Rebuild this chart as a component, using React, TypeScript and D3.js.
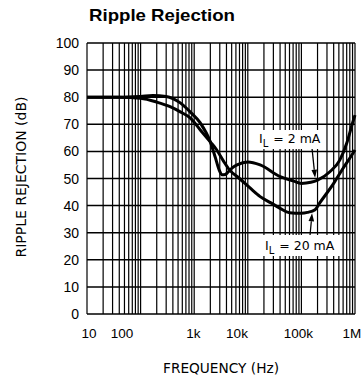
import React from "react";
import * as d3 from "d3";

// ---- data ----
const FREQ_2MA = [10, 40, 100, 170, 300, 550, 850, 1300, 2000, 2500, 2900, 3300, 3800, 4300, 5200, 6300, 10000, 17000, 40000, 70000, 100000, 150000, 200000, 340000, 520000, 700000, 900000, 1000000];
const RR_2MA = [80, 80, 80.3, 80.6, 80.3, 77.9, 74.5, 70.5, 63.5, 57.5, 53.3, 51.4, 51.5, 52.4, 54.0, 55.0, 56.1, 55.0, 50.7, 49.1, 48.2, 48.6, 49.4, 52.5, 56.8, 63.0, 70.5, 73.4];

const FREQ_20MA = [10, 40, 100, 200, 355, 550, 850, 1300, 2000, 2600, 3500, 4600, 7000, 11000, 17000, 27000, 40000, 60000, 100000, 130000, 180000, 220000, 400000, 600000, 850000, 1000000];
const RR_20MA = [80, 80, 79.6, 78.2, 76.5, 74.6, 72.3, 67.9, 63.5, 60.7, 56.5, 53.1, 50.0, 46.5, 43.3, 41.0, 39.0, 37.4, 37.2, 37.5, 38.5, 41.0, 48.2, 53.8, 58.3, 60.5];

const Y_TICKS = [0, 10, 20, 30, 40, 50, 60, 70, 80, 90, 100];
const X_TICKS = [10, 100, 1000, 10000, 100000, 1000000];
const X_TICK_LABELS = ["10", "100", "1k", "10k", "100k", "1M"];
const DECADES = [10, 100, 1000, 10000, 100000];
const MINOR_MULTS = [1, 2, 3, 4, 5, 6, 7, 8, 9];

const TITLE = "Ripple Rejection";
const Y_TITLE = "RIPPLE REJECTION (dB)";
const X_TITLE = "FREQUENCY (Hz)";

// annotations: curve point pointed at (frequency, dB)
const ANNO_2MA = { f: 180000, db: 49.2, value: "2 mA" };
const ANNO_20MA = { f: 158000, db: 37.9, value: "20 mA" };

// ---- layout ----
const W = 364;
const H = 379;
const PLOT = { left: 87, right: 355, top: 43, bottom: 314 };
// horizontal offsets of x tick labels as placed in the reference
const X_LABEL_DX = [2, -18.6, -0.7, -10.8, -3, -3];

export default function App() {
  const x = d3.scaleLog().domain([10, 1e6]).range([PLOT.left, PLOT.right]);
  const y = d3.scaleLinear().domain([0, 100]).range([PLOT.bottom, PLOT.top]);

  const line = d3
    .line<{ f: number; v: number }>()
    .x((d) => x(d.f))
    .y((d) => y(d.v))
    .curve(d3.curveMonotoneX);

  const s2 = FREQ_2MA.map((f, i) => ({ f, v: RR_2MA[i] }));
  const s20 = FREQ_20MA.map((f, i) => ({ f, v: RR_20MA[i] }));

  const vLines: number[] = [];
  DECADES.forEach((d) => MINOR_MULTS.forEach((m) => vLines.push(d * m)));
  vLines.push(1e6);

  const font = "'DejaVu Sans', sans-serif";
  const numFont = "'Liberation Sans', Arial, sans-serif";

  // annotation geometry
  const a2x = x(ANNO_2MA.f);
  const a2y = y(ANNO_2MA.db) - 3;
  const a20x = x(ANNO_20MA.f);
  const a20y = y(ANNO_20MA.db) + 2;

  const arrow = (x1: number, y1: number, x2: number, y2: number) => {
    const ang = Math.atan2(y2 - y1, x2 - x1);
    const len = 8;
    const hw = 2.8;
    const bx = x2 - len * Math.cos(ang);
    const by = y2 - len * Math.sin(ang);
    const px = -Math.sin(ang) * hw;
    const py = Math.cos(ang) * hw;
    return (
      <g>
        <line x1={x1} y1={y1} x2={bx} y2={by} stroke="#000" strokeWidth={1.3} />
        <path d={`M${x2},${y2}L${bx + px},${by + py}L${bx - px},${by - py}Z`} fill="#000" />
      </g>
    );
  };

  return (
    <svg
      width={W}
      height={H}
      style={{ position: "absolute", left: 0, top: 0, background: "#fff" }}
    >
      <rect x={0} y={0} width={W} height={H} fill="#fff" />
      {/* title */}
      <text
        x={89}
        y={21}
        fontFamily={numFont}
        fontWeight="bold"
        fontSize={16.5}
        textLength={146}
        lengthAdjust="spacingAndGlyphs"
        fill="#000"
      >
        {TITLE}
      </text>

      {/* vertical grid */}
      {vLines.map((f, i) => (
        <line
          key={"v" + i}
          x1={x(f)}
          x2={x(f)}
          y1={PLOT.top}
          y2={PLOT.bottom}
          stroke="#000"
          strokeWidth={1.2}
        />
      ))}
      {/* horizontal grid */}
      {Y_TICKS.map((t) => (
        <line
          key={"h" + t}
          x1={PLOT.left}
          x2={PLOT.right}
          y1={y(t)}
          y2={y(t)}
          stroke="#000"
          strokeWidth={1.5}
        />
      ))}

      {/* y tick labels */}
      {Y_TICKS.map((t) => (
        <text
          key={"yl" + t}
          x={79}
          y={y(t)}
          dy="0.36em"
          textAnchor="end"
          fontFamily={numFont}
          fontSize={14}
          fill="#000"
        >
          {t}
        </text>
      ))}
      {/* x tick labels */}
      {X_TICKS.map((t, i) => (
        <text
          key={"xl" + t}
          x={x(t) + X_LABEL_DX[i]}
          y={337.5}
          textAnchor="middle"
          fontFamily={numFont}
          fontSize={13.5}
          fill="#000"
        >
          {X_TICK_LABELS[i]}
        </text>
      ))}

      {/* axis titles */}
      <text
        x={221}
        y={373}
        textAnchor="middle"
        fontFamily={font}
        fontSize={13.5}
        textLength={116}
        lengthAdjust="spacingAndGlyphs"
        fill="#000"
      >
        {X_TITLE}
      </text>
      <text
        transform={`translate(26,177) rotate(-90)`}
        textAnchor="middle"
        fontFamily={font}
        fontSize={13.5}
        textLength={161}
        lengthAdjust="spacingAndGlyphs"
        fill="#000"
      >
        {Y_TITLE}
      </text>

      {/* label boxes */}
      <rect x={256} y={130} width={70} height={19} fill="#fff" />
      <rect x={263} y={235} width={78} height={21} fill="#fff" />

      {/* curves */}
      <path d={line(s2) || ""} fill="none" stroke="#000" strokeWidth={3} strokeLinejoin="round" />
      <path d={line(s20) || ""} fill="none" stroke="#000" strokeWidth={3} strokeLinejoin="round" />

      {/* annotation 2 mA */}
      <text x={259} y={143} fontFamily={font} fontSize={12.5} fill="#000">
        I
        <tspan dy={4} fontSize={10}>L</tspan>
        <tspan dy={-4} dx={5}>= {ANNO_2MA.value}</tspan>
      </text>
      {arrow(a2x - 3, 149, a2x, a2y)}

      {/* annotation 20 mA */}
      <text x={265} y={250} fontFamily={font} fontSize={12.5} fill="#000">
        I
        <tspan dy={4} fontSize={10}>L</tspan>
        <tspan dy={-4} dx={5}>= {ANNO_20MA.value}</tspan>
      </text>
      {arrow(a20x - 2, 235, a20x, a20y)}
    </svg>
  );
}
